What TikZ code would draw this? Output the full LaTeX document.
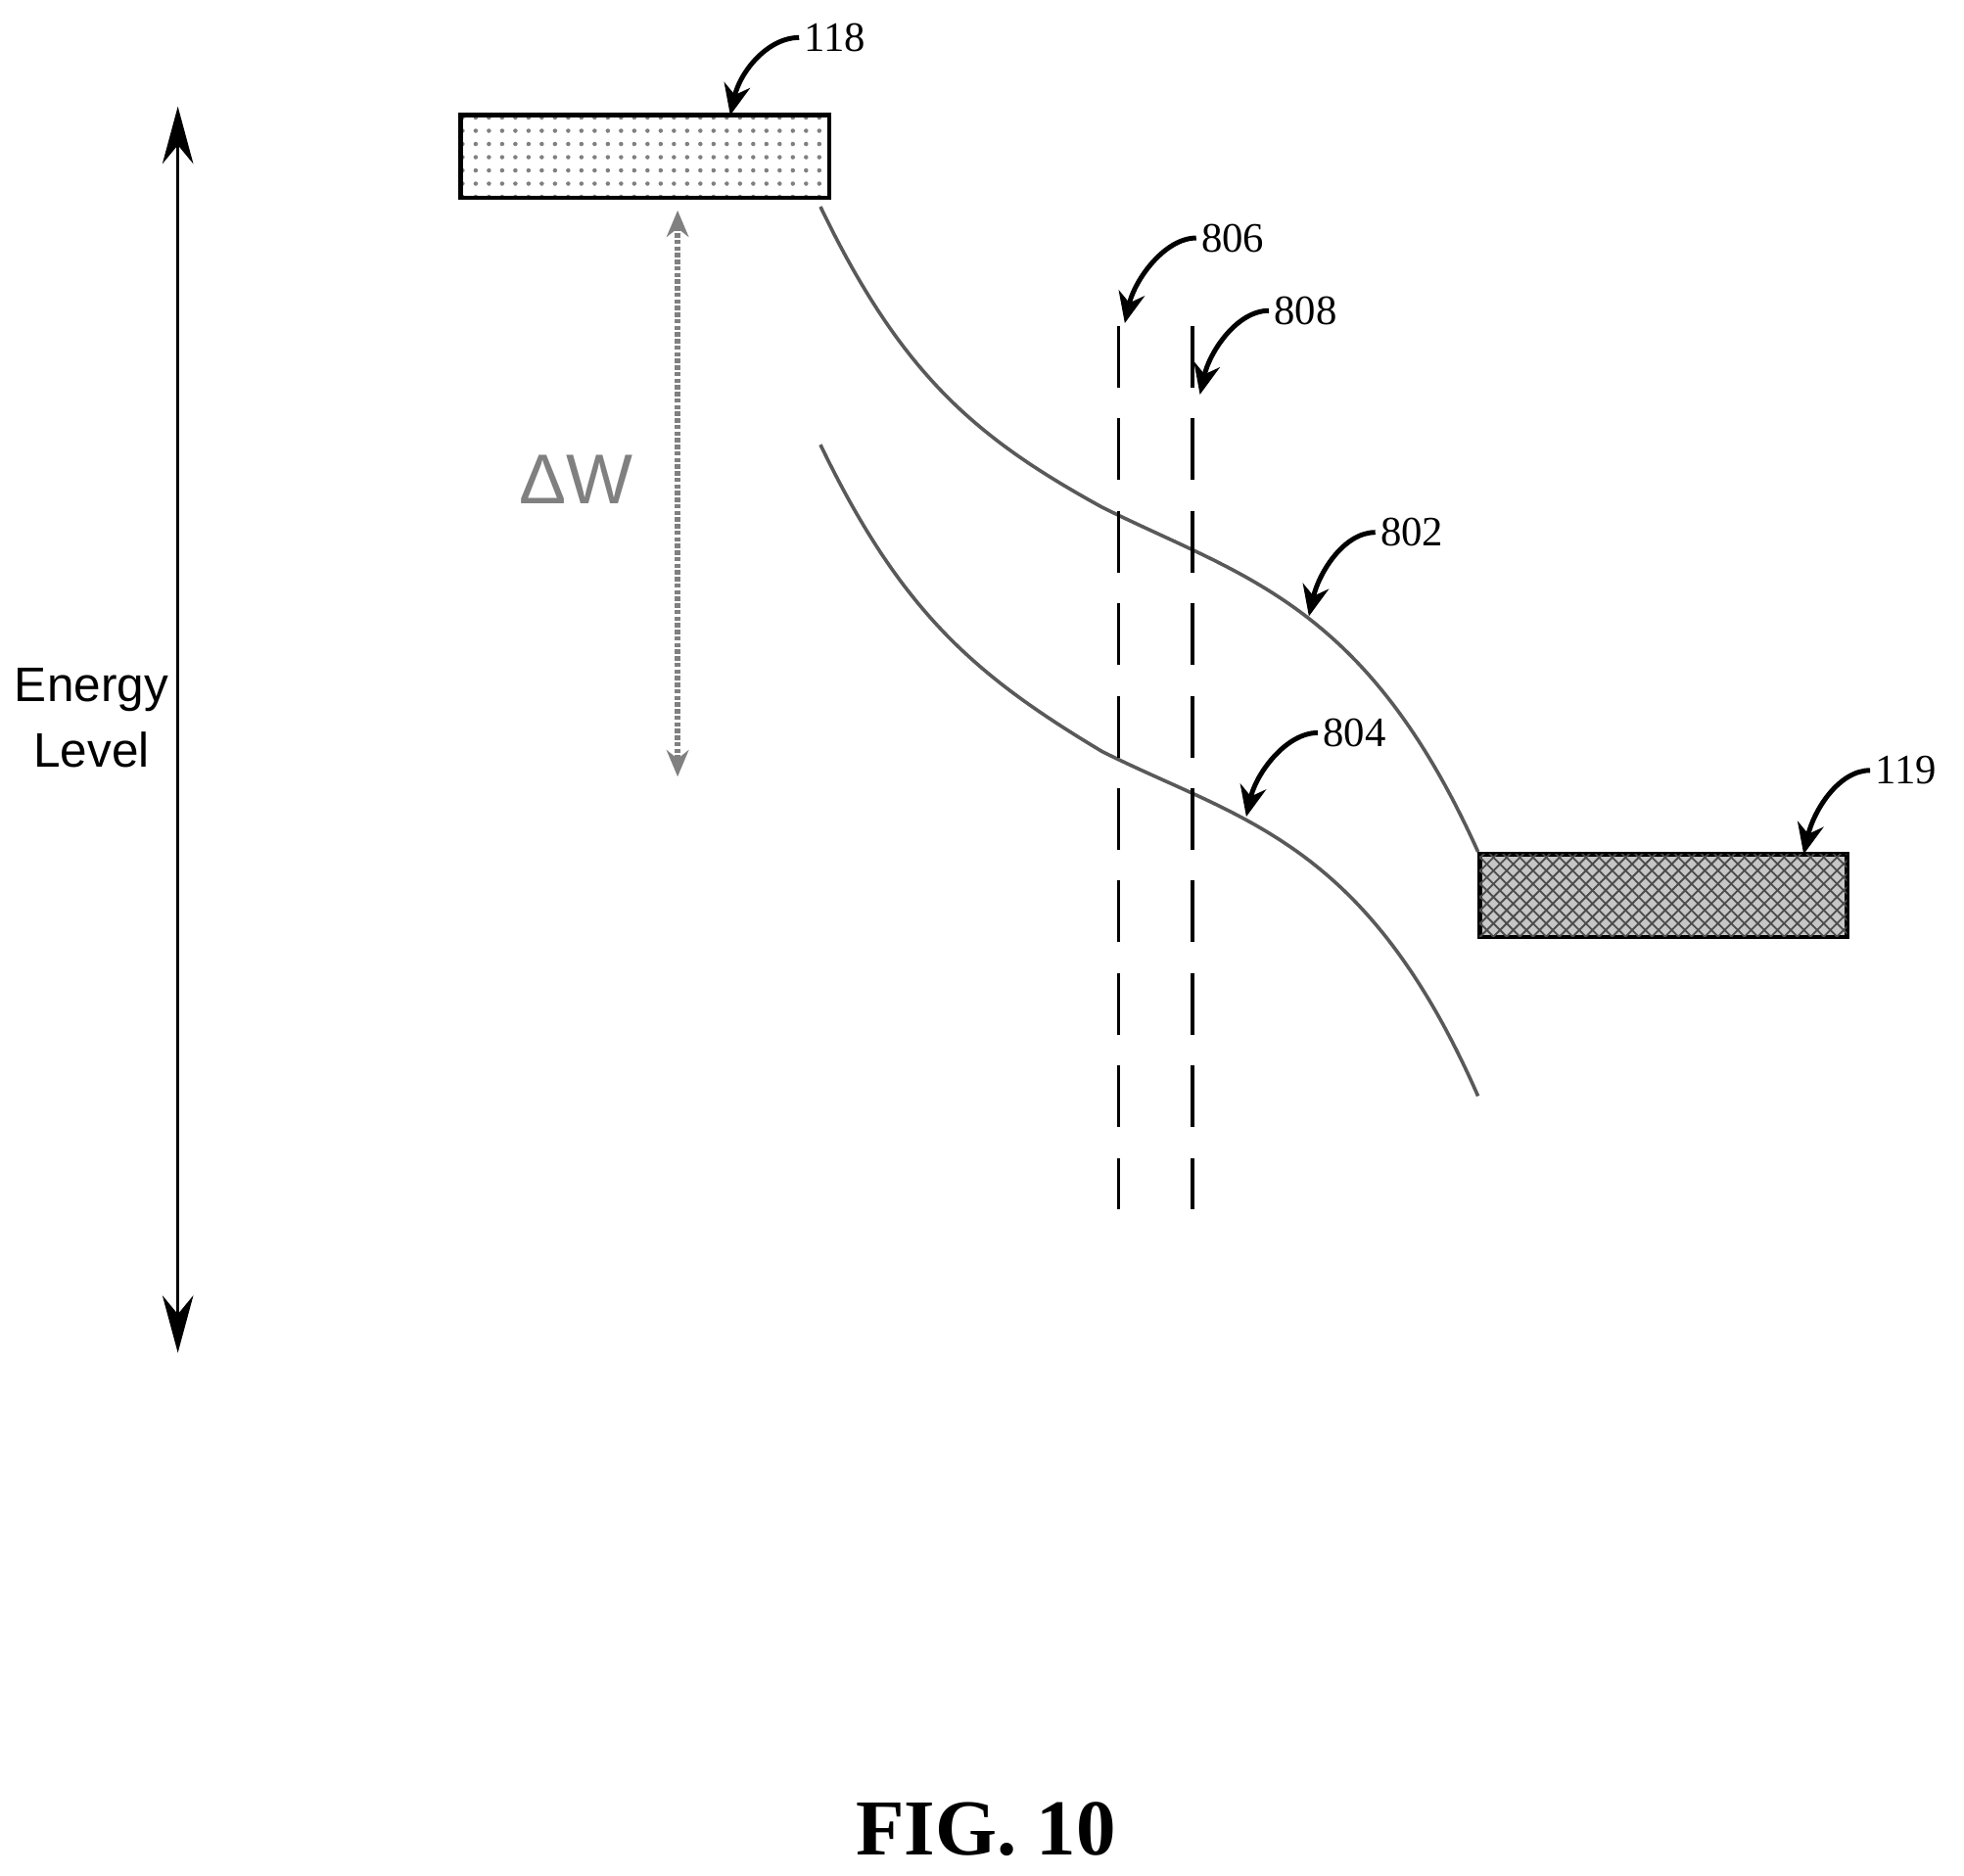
\documentclass[tikz,border=0pt]{standalone}
\usepackage{fontspec}
\setmainfont{Liberation Serif}
\setsansfont{Liberation Sans}
\usetikzlibrary{arrows.meta, patterns, positioning}

\begin{document}
\begin{tikzpicture}[
        x=0.01cm, y=-0.01cm,
        >=Stealth,
        num/.style={font=\fontsize{9.5}{11}\selectfont, anchor=west, inner sep=1pt},
        lead/.style={->, >={Stealth[length=7pt, width=6pt]}, line width=1.1pt},
        band/.style={draw, line width=1pt},
        curve/.style={gray!70!black, line width=0.8pt},
        guide/.style={dashed, dash pattern=on 14pt off 7pt, line width=0.7pt}
    ]
    \useasboundingbox (0,0) rectangle (1568,1497);

    % --- energy axis ---
    \coordinate (top) at (142,85);
    \coordinate (bot) at (142,1080);
    \draw[<->, >={Stealth[length=13pt, width=7pt]}, line width=0.8pt] (top) -- (bot);
    \node (axis) [font=\sffamily\fontsize{11}{15}\selectfont, align=center] at (73,573) {Energy\\Level};

    % --- bands ---
    \node (b118) [band, pattern=dots, pattern color=gray, minimum width=2.94cm, minimum height=0.66cm, inner sep=0pt] at (515,125) {};
    \node (b119) [band, fill=gray!45, postaction={pattern=crosshatch, pattern color=black!70}, minimum width=2.93cm, minimum height=0.66cm, inner sep=0pt] at (1328,715) {};

    % --- work function gap ---
    \coordinate (gtop) at (541,168);
    \coordinate (gbot) at (541,620);
    \draw[<->, >={Stealth[length=6pt, width=5pt]}, gray, line width=1.2pt, dash pattern=on 1pt off 0.5pt] (gtop) -- (gbot);
    \node (dw) [font=\sffamily\fontsize{16}{20}\selectfont, gray] at (460,383) {ΔW};

    % --- curves ---
    \draw[curve] (655,165) .. controls (720,300) and (780,350) .. (880,405)
        .. controls (990,460) and (1090,480) .. (1180,680);
    \draw[curve] (655,355) .. controls (720,490) and (780,540) .. (880,600)
        .. controls (990,655) and (1090,670) .. (1180,875);

    % --- guides ---
    \coordinate (g1t) at (893,260); \coordinate (g1b) at (893,965);
    \coordinate (g2t) at (952,260); \coordinate (g2b) at (952,965);
    \draw[guide] (g1t) -- (g1b);
    \draw[guide] (g2t) -- (g2b);

    % --- reference numerals ---
    \node (n118) [num] at (638,30) {118};
    \node (n806) [num] at (955,190) {806};
    \node (n808) [num] at (1013,248) {808};
    \node (n802) [num] at (1098,425) {802};
    \node (n804) [num] at (1052,585) {804};
    \node (n119) [num] at (1493,615) {119};
    \coordinate (t118) at (583,92);
    \coordinate (t806) at (898,258);
    \coordinate (t808) at (958,315);
    \coordinate (t802) at (1045,492);
    \coordinate (t804) at (995,652);
    \coordinate (t119) at (1440,682);
    \foreach \n in {118,806,808,802,804,119}
        \draw[lead] (n\n.west) .. controls +(-25,0) and +(8,-35) .. (t\n);

    \node (fig) [font=\bfseries\fontsize{18}{22}\selectfont] at (787,1460) {FIG. 10};
\end{tikzpicture}
\end{document}
